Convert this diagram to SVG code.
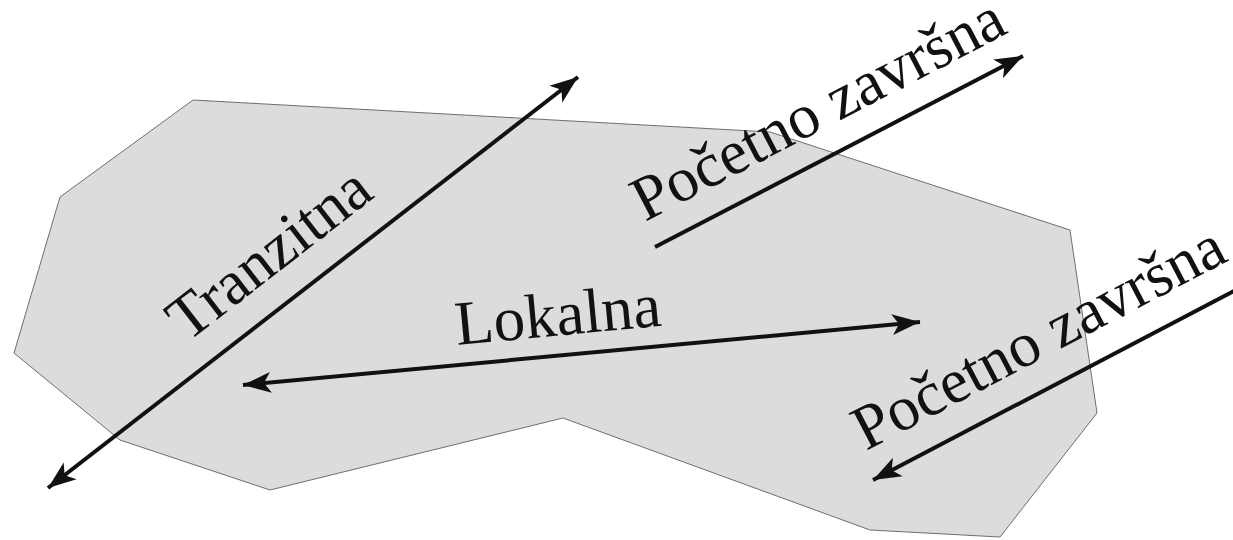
<svg xmlns="http://www.w3.org/2000/svg" width="1233" height="540" viewBox="0 0 1233 540">
  <defs>
    <marker id="head" viewBox="-30 -12 32 24" refX="0" refY="0" markerWidth="32" markerHeight="24" markerUnits="userSpaceOnUse" orient="auto-start-reverse">
      <path d="M0,0 L-28,-10.5 L-21,0 L-28,10.5 Z" fill="#111"/>
    </marker>
  </defs>
  <style>
    .area { fill: #dcdcdc; stroke: #6e6e6e; stroke-width: 1; }
    .flow { fill: none; stroke: #111; stroke-width: 4; }
  </style>

  <!-- region outline -->
  <g id="region">
    <polygon class="area" points="193,100 770,132 1070,230 1097,413 1000,537 870,530 563,418 270,490 120,440 14,353 60,197"/>
  </g>

  <!-- flows -->
  <g id="connectors">
    <line class="flow" x1="48" y1="488" x2="578" y2="77" marker-start="url(#head)" marker-end="url(#head)"/>
    <line class="flow" x1="243" y1="385" x2="920" y2="322" marker-start="url(#head)" marker-end="url(#head)"/>
    <line class="flow" x1="655" y1="247" x2="1023" y2="56" marker-end="url(#head)"/>
    <line class="flow" x1="1236" y1="290" x2="873" y2="480" marker-end="url(#head)"/>
  </g>

  <!-- labels, each rotated along its flow -->
  <g id="label-tranzitna" transform="translate(187 343) rotate(-37.8)">
    <text font-family="Liberation Serif, Tinos, Times New Roman, serif" font-size="63" fill="#111" x="0" y="0">Tranzitna</text>
  </g>
  <g id="label-lokalna" transform="translate(457 345) rotate(-5.4)">
    <text font-family="Liberation Serif, Tinos, Times New Roman, serif" font-size="63" fill="#111" x="0" y="0">Lokalna</text>
  </g>
  <g id="label-pz-top" transform="translate(645 222) rotate(-27.5)">
    <text font-family="Liberation Serif, Tinos, Times New Roman, serif" font-size="63" fill="#111" x="0" y="0">Po&#269;etno zavr&#353;na</text>
  </g>
  <g id="label-pz-bottom" transform="translate(866 451) rotate(-27.7)">
    <text font-family="Liberation Serif, Tinos, Times New Roman, serif" font-size="63" fill="#111" x="0" y="0">Po&#269;etno zavr&#353;na</text>
  </g>
</svg>
